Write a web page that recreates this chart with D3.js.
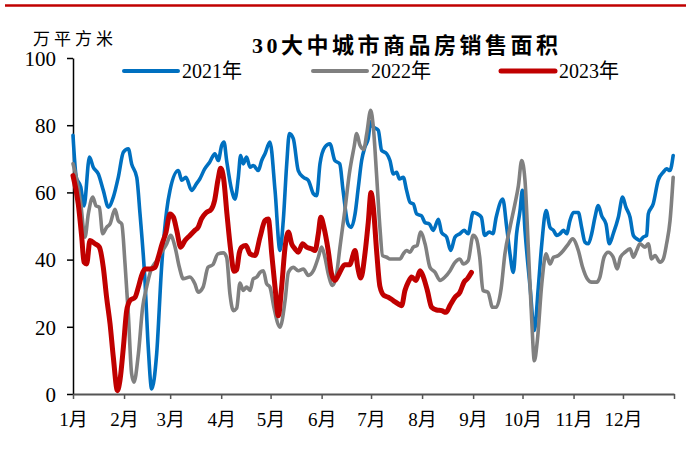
<!DOCTYPE html>
<html>
<head>
<meta charset="utf-8">
<script src="https://cdn.jsdelivr.net/npm/d3@7"></script>
<style>
  html, body { margin: 0; padding: 0; background: #fff; }
  svg { display: block; }
  svg text { font-family: "Liberation Serif", "Tinos", "Times New Roman", "DejaVu Serif", "Noto Sans CJK SC", serif; fill: #000; }
</style>
</head>
<body>
<svg id="chart" width="690" height="457"></svg>
<script>
// ---- data ----
const monthStarts = [0, 31, 59, 90, 120, 151, 181, 212, 243, 273, 304, 334, 365];
const monthLabels = ["1月","2月","3月","4月","5月","6月","7月","8月","9月","10月","11月","12月"];
const yTicks = [0, 20, 40, 60, 80, 100];
const seriesNames = ["2021年", "2022年", "2023年"];

const days2021 = [0,2,4.7,6.7,10,12.3,15.4,18.4,21.5,24.5,27.5,30.6,33.6,35.6,38.7,40.7,43.7,45.7,47.8,50.8,53.8,56.9,58.9,64,66,68.6,72,75,77,80,83,86.2,88.2,90.3,91.7,93.3,96.4,98.4,100.4,101.8,103.4,105.4,107.5,109.5,112.5,114.6,116.6,119.6,122.7,125.7,127.7,129.8,131.4,133.8,136.8,139.9,142.9,146,148,150,153,156,159,162,164,167,169,171.3,173.3,175.3,177.3,179.3,180.8,182.4,185.4,187.4,190.5,192.5,194.5,196.6,198.2,200.6,202.6,204.7,206.7,208.7,211.7,213.8,216.4,218.8,221.9,223.9,226.9,229.4,232,235,237.5,240,243,245.6,248,250,252.8,255,257,261,263.4,265.4,267.4,269.4,271.5,272.9,274.5,277.6,280.2,282.6,284.7,287.3,289.7,291.8,293.8,295.8,297.8,299.8,301.8,303.9,306.9,308.9,310.9,313,315,317,319,321.1,323.7,325.7,328.1,331.2,333.8,335.8,338.3,340.3,342.3,344.3,346.3,348.4,349.4,352.4,355.4,358.5,360.5,362.5,364.5];
const vals2021 = [77,64.5,61.6,56,70.5,67.5,65.5,60.6,55.6,58.6,64.5,72,73,68.5,64.5,53.6,33.8,13.9,1.5,11.9,37.7,54.6,60.6,66.5,63.6,64.5,60.6,62.6,64,67,69,71.5,69.5,74,75,69.5,60.6,58,64.5,71,68.5,70.5,67.5,68,66.5,69.5,71.5,75,60.6,42.7,51.6,68.5,77.5,76,66.5,64.5,63.6,59.6,59,68.5,73.5,74.5,69.5,68.5,60.6,50.6,49.6,53.6,61.6,69.5,73.5,76,81,79.5,78.5,72.5,71.5,69.5,65.5,66,64,64.5,60.6,57,56.6,53.6,53,51,50.6,48.7,52,48,46.7,42.7,46.7,47.7,48.7,47.7,54,53.6,52.6,47.2,48.2,47.7,52.6,58,49.6,41.7,36.2,47.7,54.6,60.6,48.7,31.8,18.9,31.8,44.7,54.6,49.6,48.7,47.2,47.7,48.7,47.7,51.6,54,54,49.6,45.2,44.7,47.7,52.6,56.1,53,50.6,44.7,47.7,52.6,58.6,55.6,52.6,47.2,46.2,45.7,46.7,47.2,53.6,56.6,63.6,66,67,66.5,71];

const days2022 = [0,2,4.7,7.3,9.3,12,14,16,18,20.4,22.5,25.5,27.5,29.6,31.6,33.6,35.6,37,39.7,42.3,44.7,47.2,50.8,53.8,56.9,59.3,62,64.6,67,71,74,76,79,82,85,88,91.3,93.3,95.3,97.4,99.4,101.4,103.4,105.4,107.5,109.5,111.6,113.6,115.6,117.6,119.6,122,125.7,128.8,130.8,133.8,136.8,139.9,142.9,146,149,151,153,155,157.7,160.1,162.2,165.2,167.8,170.7,172.3,174.3,176.5,178.4,180.8,182.4,184.4,186.4,188,190.5,192.5,195.6,198.6,200.6,202.6,204.7,206.7,209,211,213.8,216.8,219.9,222.9,225.9,229,232,235,237,240,243,245,247,249,252,254.8,257,260,262.3,265.4,268.4,270.5,272.5,274.5,276.5,278.6,280.2,282,284.7,287.3,289.7,291.8,294.8,297.8,300.9,303.4,306.9,309.5,312.3,315,318,320,322.5,325,328.1,330.5,332.5,335.3,338.3,340.3,342.3,344.3,347.4,349.4,351.4,353.5,356.5,358.5,360.5,362.6,364.5];
const vals2022 = [68.5,64.5,56.6,46.7,53.6,58.6,56,55.6,47.7,49.6,50.6,55,51.6,50.6,38.7,23.8,6,3.5,11.9,25.8,31.8,36.7,39.7,42.2,44.7,47.2,43.7,37.7,34.3,34.8,32.8,30.3,31.8,37.7,38.5,41.7,42,40.7,29.8,24.8,25.5,33,30.8,31.8,30.8,34.3,34.8,36.2,36.7,32.8,31.8,25.8,19.9,27.8,36.2,37.7,36.7,37.2,35.3,36.7,40.7,43.7,40.7,35.8,32.3,35.8,44,55,65.5,73.5,77.5,74,72.8,77.5,84.4,79.4,65,49.6,41.2,40.7,40.2,40.2,40.2,41.7,42.7,42.2,43.7,44.2,48.2,44.7,37.7,36.2,33.8,34.8,36.7,39.2,40.2,38.7,39.7,47.2,46.2,40.7,30.8,30.3,25.8,25.8,31.3,41.7,49.6,56.6,62,69.5,63.6,43.7,21.8,9.9,15.9,32.8,41.7,38.7,40.7,41.2,42.7,44.7,46.2,42.7,37.7,34.3,33.3,33.3,34.8,40.7,42.2,40.7,37.2,40.7,42.2,43.2,40.7,42.7,44.7,43.7,44.7,40.2,41.2,39.2,40.2,44.7,51.6,64.5];

const days2023 = [0,3.2,5.3,6.7,8.3,10.3,13.4,16,18.4,20.4,22.5,24.5,27,28.5,30.6,32.6,34.6,37.7,39.7,41.7,43.7,46.8,49.8,51.8,53.8,56.5,58.9,61,63,65.4,68,71,74,76,78,81,84,86,88,89.7,91.5,93.5,95.8,97.8,99.4,101,102.4,105,107.5,110.5,113.6,116.6,118.6,120.7,122.7,124.7,126.7,128.8,130.8,132.8,134.8,136.8,139.5,141.9,145,147,149,150.5,152.4,155,157,159,162,165,168,171.3,173,174.8,177.3,179.3,181,182.4,184.4,186.4,188.9,191.5,194.5,197.6,199.6,201.6,203.6,205.7,208.3,210.8,212.8,215.2,217.8,220.8,223.9,226.5,228.9,232,235,237.5,239.5,242];
const vals2023 = [65,56.6,46.7,39.2,38.7,45.7,44.7,43.7,37.7,28.8,20.9,10.9,1,4,13.9,24.8,27.8,28.8,31.8,35.3,37.2,37.2,37.7,40.7,44.2,48.2,53.6,52.6,48.7,43.7,45.7,47.2,48.7,49.6,52.1,54,55,57.6,63.6,67.2,64,53.6,42.7,36.5,37,42,43.7,44.2,41.7,41.2,46.7,51.6,52.1,41.7,31.8,23.3,31.8,43.7,48.2,44.7,43.2,42.2,44.7,43.7,43.2,42.7,47.7,52.6,49.6,42.7,35.8,33.8,36.2,38.5,38.5,42.7,37.5,34.5,41.7,51,60,55.6,42.5,32,29.3,28.8,27.8,26.8,26.3,30.8,33.3,34.8,33.8,36.7,34.8,30.8,25.8,25,24.8,24.3,26.3,28.8,30.3,33.3,34.3,36.2];

const seriesColors = ["#0070C0", "#808080", "#C00000"];

// ---- drawing ----
const FONT = '"Liberation Serif", "Tinos", "Times New Roman", "DejaVu Serif", "Noto Sans CJK SC", serif';
const svg = d3.select("#chart");
const x = d3.scaleLinear().domain([0, 365]).range([73, 674]);
const y = d3.scaleLinear().domain([0, 100]).range([394, 58]);

// top red rule
svg.append("line").attr("x1", 5).attr("x2", 686).attr("y1", 5.5).attr("y2", 5.5)
  .attr("stroke", "#C00000").attr("stroke-width", 2.5);

// title
svg.append("text").attr("x", 252).attr("y", 53)
  .attr("font-size", 22).attr("font-weight", "bold").attr("letter-spacing", 3.5)
  .style("font-family", FONT)
  .text("30大中城市商品房销售面积");

// unit
svg.append("text").attr("x", 33).attr("y", 45)
  .attr("font-size", 17).attr("letter-spacing", 4)
  .style("font-family", FONT)
  .text("万平方米");

// axes
const yAxis = d3.axisLeft(y).tickValues(yTicks).tickSize(6).tickSizeOuter(0).tickPadding(11);
const gy = svg.append("g").attr("transform", `translate(${x(0)},0)`).call(yAxis);
gy.attr("font-family", null);
gy.selectAll("text").attr("font-size", 21).attr("dy", "0.35em").style("font-family", FONT);
gy.select(".domain").attr("stroke", "#000").attr("stroke-width", 1.5);
gy.selectAll(".tick line").attr("stroke", "#000").attr("stroke-width", 1.5);

const xAxis = d3.axisBottom(x).tickValues(monthStarts).tickSize(5).tickSizeOuter(0).tickPadding(14)
  .tickFormat((d, i) => monthLabels[i] || "");
const gx = svg.append("g").attr("transform", `translate(0,${y(0)})`).call(xAxis);
gx.attr("font-family", null);
gx.selectAll("text").attr("font-size", 19).style("font-family", FONT);
gx.select(".domain").attr("stroke", "#555").attr("stroke-width", 2);
gx.selectAll(".tick line").attr("stroke", "#555").attr("stroke-width", 1.5);

// lines
const series = [
  { days: days2021, vals: vals2021, color: seriesColors[0], w: 3.6 },
  { days: days2022, vals: vals2022, color: seriesColors[1], w: 3.6 },
  { days: days2023, vals: vals2023, color: seriesColors[2], w: 5 }
];
const line = d3.line().x(d => x(d[0])).y(d => y(d[1])).curve(d3.curveMonotoneX);
series.forEach(s => {
  const pts = s.days.map((d, i) => [d, s.vals[i]]);
  svg.append("path").datum(pts).attr("d", line)
    .attr("fill", "none").attr("stroke", s.color).attr("stroke-width", s.w)
    .attr("stroke-linejoin", "round").attr("stroke-linecap", "round");
});

// legend
const legendX = [124, 313, 501];
seriesNames.forEach((name, i) => {
  svg.append("line").attr("x1", legendX[i]).attr("x2", legendX[i] + 54)
    .attr("y1", 71).attr("y2", 71)
    .attr("stroke", seriesColors[i]).attr("stroke-width", i === 2 ? 5 : 4)
    .attr("stroke-linecap", "round");
  svg.append("text").attr("x", legendX[i] + 58).attr("y", 78)
    .attr("font-size", 20).style("font-family", FONT).text(name);
});
</script>
</body>
</html>
